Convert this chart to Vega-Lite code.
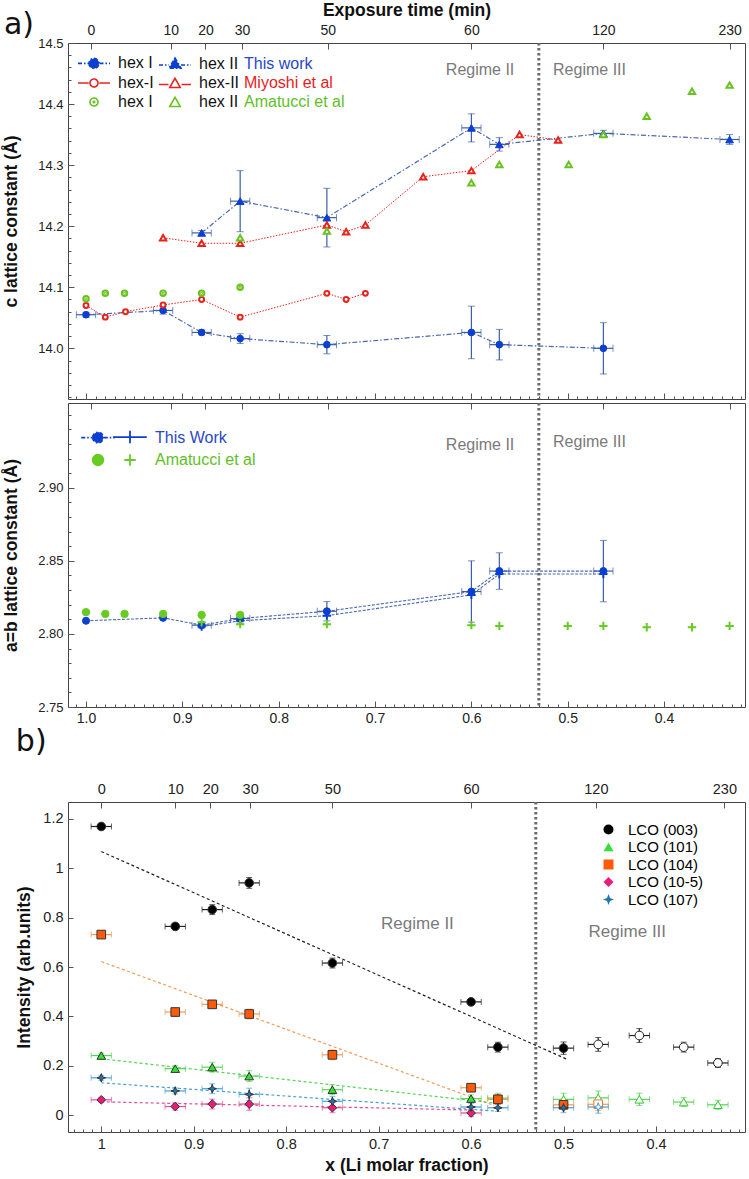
{
"$schema":"https://vega.github.io/schema/vega-lite/v6.json",
"background":"white",
"padding":{"left":2,"top":0,"right":2,"bottom":2},
"config":{
 "font":"Liberation Sans",
 "view":{"stroke":"#444444","strokeWidth":1},
 "axis":{"labelFont":"Liberation Sans","titleFont":"Liberation Sans","labelColor":"#222222","titleColor":"#111111","labelFontSize":14,"titleFontSize":17.5,"titleFontWeight":"bold","grid":false,"domain":false,"tickColor":"#555555","tickWidth":1,"labelOverlap":false,"labelBound":false,"labelFlush":false},
 "legend":{"labelFont":"Liberation Sans","padding":0},
 "title":{"font":"DejaVu Sans","fontWeight":"normal","fontSize":30,"color":"#111111"}
},
"datasets":{
 "aTop":[
  {"series":"tw-I","x":1.0,"c":14.055,"xe":0.01,"ce":0.004},
  {"series":"tw-I","x":0.92,"c":14.062,"xe":0.01,"ce":0.006},
  {"series":"tw-I","x":0.88,"c":14.026,"xe":0.01,"ce":0.004},
  {"series":"tw-I","x":0.84,"c":14.016,"xe":0.01,"ce":0.008},
  {"series":"tw-I","x":0.75,"c":14.006,"xe":0.01,"ce":0.015},
  {"series":"tw-I","x":0.6,"c":14.026,"xe":0.01,"ce":0.043},
  {"series":"tw-I","x":0.571,"c":14.006,"xe":0.01,"ce":0.025},
  {"series":"tw-I","x":0.463,"c":14.0,"xe":0.01,"ce":0.042},
  {"series":"tw-II","x":0.88,"c":14.189,"xe":0.01,"ce":0.004},
  {"series":"tw-II","x":0.84,"c":14.241,"xe":0.01,"ce":0.05},
  {"series":"tw-II","x":0.75,"c":14.214,"xe":0.01,"ce":0.048},
  {"series":"tw-II","x":0.6,"c":14.361,"xe":0.01,"ce":0.023},
  {"series":"tw-II","x":0.571,"c":14.334,"xe":0.01,"ce":0.011},
  {"series":"tw-II","x":0.463,"c":14.352,"xe":0.01,"ce":0.005},
  {"series":"tw-II","x":0.332,"c":14.342,"xe":0.01,"ce":0.008},
  {"series":"mi-I","x":1.0,"c":14.07,"xe":0,"ce":0},
  {"series":"mi-I","x":0.98,"c":14.051,"xe":0,"ce":0},
  {"series":"mi-I","x":0.959,"c":14.06,"xe":0,"ce":0},
  {"series":"mi-I","x":0.92,"c":14.071,"xe":0,"ce":0},
  {"series":"mi-I","x":0.88,"c":14.08,"xe":0,"ce":0},
  {"series":"mi-I","x":0.84,"c":14.051,"xe":0,"ce":0},
  {"series":"mi-I","x":0.75,"c":14.09,"xe":0,"ce":0},
  {"series":"mi-I","x":0.73,"c":14.08,"xe":0,"ce":0},
  {"series":"mi-I","x":0.71,"c":14.09,"xe":0,"ce":0},
  {"series":"mi-II","x":0.92,"c":14.181,"xe":0,"ce":0},
  {"series":"mi-II","x":0.88,"c":14.172,"xe":0,"ce":0},
  {"series":"mi-II","x":0.84,"c":14.172,"xe":0,"ce":0},
  {"series":"mi-II","x":0.75,"c":14.202,"xe":0,"ce":0},
  {"series":"mi-II","x":0.73,"c":14.191,"xe":0,"ce":0},
  {"series":"mi-II","x":0.71,"c":14.202,"xe":0,"ce":0},
  {"series":"mi-II","x":0.65,"c":14.281,"xe":0,"ce":0},
  {"series":"mi-II","x":0.6,"c":14.291,"xe":0,"ce":0},
  {"series":"mi-II","x":0.55,"c":14.35,"xe":0,"ce":0},
  {"series":"mi-II","x":0.51,"c":14.341,"xe":0,"ce":0},
  {"series":"am-I","x":1.0,"c":14.081,"xe":0,"ce":0},
  {"series":"am-I","x":0.98,"c":14.09,"xe":0,"ce":0},
  {"series":"am-I","x":0.96,"c":14.09,"xe":0,"ce":0},
  {"series":"am-I","x":0.92,"c":14.09,"xe":0,"ce":0},
  {"series":"am-I","x":0.88,"c":14.09,"xe":0,"ce":0},
  {"series":"am-I","x":0.84,"c":14.1,"xe":0,"ce":0},
  {"series":"am-II","x":0.84,"c":14.181,"xe":0,"ce":0},
  {"series":"am-II","x":0.75,"c":14.192,"xe":0,"ce":0},
  {"series":"am-II","x":0.6,"c":14.271,"xe":0,"ce":0},
  {"series":"am-II","x":0.571,"c":14.301,"xe":0,"ce":0},
  {"series":"am-II","x":0.499,"c":14.301,"xe":0,"ce":0},
  {"series":"am-II","x":0.463,"c":14.35,"xe":0,"ce":0},
  {"series":"am-II","x":0.418,"c":14.38,"xe":0,"ce":0},
  {"series":"am-II","x":0.371,"c":14.421,"xe":0,"ce":0},
  {"series":"am-II","x":0.332,"c":14.431,"xe":0,"ce":0}
 ],
 "aBot":[
  {"series":"tw-c","x":1.0,"a":2.809,"xe":0,"ae":0},
  {"series":"tw-c","x":0.92,"a":2.811,"xe":0,"ae":0},
  {"series":"tw-c","x":0.88,"a":2.806,"xe":0.01,"ae":0.002},
  {"series":"tw-c","x":0.84,"a":2.8105,"xe":0.01,"ae":0.003},
  {"series":"tw-c","x":0.75,"a":2.8155,"xe":0.01,"ae":0.0066},
  {"series":"tw-c","x":0.6,"a":2.829,"xe":0.01,"ae":0.021},
  {"series":"tw-c","x":0.571,"a":2.843,"xe":0.01,"ae":0.0125},
  {"series":"tw-c","x":0.463,"a":2.843,"xe":0.01,"ae":0.021},
  {"series":"tw-p","x":0.88,"a":2.805,"xe":0,"ae":0},
  {"series":"tw-p","x":0.84,"a":2.809,"xe":0,"ae":0},
  {"series":"tw-p","x":0.75,"a":2.8125,"xe":0,"ae":0},
  {"series":"tw-p","x":0.6,"a":2.8267,"xe":0,"ae":0},
  {"series":"tw-p","x":0.571,"a":2.841,"xe":0,"ae":0},
  {"series":"tw-p","x":0.463,"a":2.841,"xe":0,"ae":0},
  {"series":"am-c","x":1.0,"a":2.8149,"xe":0,"ae":0},
  {"series":"am-c","x":0.98,"a":2.8137,"xe":0,"ae":0},
  {"series":"am-c","x":0.96,"a":2.8137,"xe":0,"ae":0},
  {"series":"am-c","x":0.92,"a":2.8137,"xe":0,"ae":0},
  {"series":"am-c","x":0.88,"a":2.813,"xe":0,"ae":0},
  {"series":"am-c","x":0.84,"a":2.813,"xe":0,"ae":0},
  {"series":"am-p","x":0.88,"a":2.808,"xe":0,"ae":0},
  {"series":"am-p","x":0.84,"a":2.8067,"xe":0,"ae":0},
  {"series":"am-p","x":0.75,"a":2.8067,"xe":0,"ae":0},
  {"series":"am-p","x":0.6,"a":2.806,"xe":0,"ae":0},
  {"series":"am-p","x":0.571,"a":2.8055,"xe":0,"ae":0},
  {"series":"am-p","x":0.5,"a":2.8055,"xe":0,"ae":0},
  {"series":"am-p","x":0.463,"a":2.8055,"xe":0,"ae":0},
  {"series":"am-p","x":0.418,"a":2.8046,"xe":0,"ae":0},
  {"series":"am-p","x":0.371,"a":2.8046,"xe":0,"ae":0},
  {"series":"am-p","x":0.332,"a":2.8055,"xe":0,"ae":0}
 ],
 "bPts":[
  {"peak":"LCO (003)","x":1.0,"y":1.168,"xe":0.011,"ye":0.01},
  {"peak":"LCO (003)","x":0.92,"y":0.764,"xe":0.011,"ye":0.012},
  {"peak":"LCO (003)","x":0.88,"y":0.832,"xe":0.011,"ye":0.02},
  {"peak":"LCO (003)","x":0.84,"y":0.94,"xe":0.011,"ye":0.022},
  {"peak":"LCO (003)","x":0.75,"y":0.616,"xe":0.011,"ye":0.02},
  {"peak":"LCO (003)","x":0.6,"y":0.459,"xe":0.011,"ye":0.01},
  {"peak":"LCO (003)","x":0.571,"y":0.276,"xe":0.011,"ye":0.02},
  {"peak":"LCO (003)","x":0.5,"y":0.272,"xe":0.011,"ye":0.025},
  {"peak":"LCO (003)","x":0.4625,"y":0.287,"xe":0.011,"ye":0.028},
  {"peak":"LCO (003)","x":0.418,"y":0.323,"xe":0.011,"ye":0.028},
  {"peak":"LCO (003)","x":0.37,"y":0.276,"xe":0.011,"ye":0.02},
  {"peak":"LCO (003)","x":0.333,"y":0.212,"xe":0.011,"ye":0.018},
  {"peak":"LCO (101)","x":1.0,"y":0.242,"xe":0.011,"ye":0.01},
  {"peak":"LCO (101)","x":0.92,"y":0.189,"xe":0.011,"ye":0.012},
  {"peak":"LCO (101)","x":0.88,"y":0.195,"xe":0.011,"ye":0.02},
  {"peak":"LCO (101)","x":0.84,"y":0.159,"xe":0.011,"ye":0.022},
  {"peak":"LCO (101)","x":0.75,"y":0.104,"xe":0.011,"ye":0.02},
  {"peak":"LCO (101)","x":0.6,"y":0.068,"xe":0.011,"ye":0.015},
  {"peak":"LCO (101)","x":0.571,"y":0.07,"xe":0.011,"ye":0.02},
  {"peak":"LCO (101)","x":0.5,"y":0.065,"xe":0.011,"ye":0.025},
  {"peak":"LCO (101)","x":0.4625,"y":0.071,"xe":0.011,"ye":0.028},
  {"peak":"LCO (101)","x":0.418,"y":0.065,"xe":0.011,"ye":0.025},
  {"peak":"LCO (101)","x":0.37,"y":0.054,"xe":0.011,"ye":0.018},
  {"peak":"LCO (101)","x":0.333,"y":0.043,"xe":0.011,"ye":0.018},
  {"peak":"LCO (104)","x":1.0,"y":0.731,"xe":0.011,"ye":0.01},
  {"peak":"LCO (104)","x":0.92,"y":0.418,"xe":0.011,"ye":0.01},
  {"peak":"LCO (104)","x":0.88,"y":0.449,"xe":0.011,"ye":0.015},
  {"peak":"LCO (104)","x":0.84,"y":0.41,"xe":0.011,"ye":0.02},
  {"peak":"LCO (104)","x":0.75,"y":0.245,"xe":0.011,"ye":0.02},
  {"peak":"LCO (104)","x":0.6,"y":0.112,"xe":0.011,"ye":0.012},
  {"peak":"LCO (104)","x":0.571,"y":0.065,"xe":0.011,"ye":0.02},
  {"peak":"LCO (104)","x":0.5,"y":0.043,"xe":0.011,"ye":0.02},
  {"peak":"LCO (104)","x":0.4625,"y":0.045,"xe":0.011,"ye":0.025},
  {"peak":"LCO (10-5)","x":1.0,"y":0.063,"xe":0.011,"ye":0.01},
  {"peak":"LCO (10-5)","x":0.92,"y":0.036,"xe":0.011,"ye":0.015},
  {"peak":"LCO (10-5)","x":0.88,"y":0.046,"xe":0.011,"ye":0.02},
  {"peak":"LCO (10-5)","x":0.84,"y":0.046,"xe":0.011,"ye":0.025},
  {"peak":"LCO (10-5)","x":0.75,"y":0.031,"xe":0.011,"ye":0.02},
  {"peak":"LCO (10-5)","x":0.6,"y":0.01,"xe":0.011,"ye":0.015},
  {"peak":"LCO (107)","x":1.0,"y":0.152,"xe":0.011,"ye":0.01},
  {"peak":"LCO (107)","x":0.92,"y":0.099,"xe":0.011,"ye":0.012},
  {"peak":"LCO (107)","x":0.88,"y":0.108,"xe":0.011,"ye":0.02},
  {"peak":"LCO (107)","x":0.84,"y":0.085,"xe":0.011,"ye":0.025},
  {"peak":"LCO (107)","x":0.75,"y":0.057,"xe":0.011,"ye":0.02},
  {"peak":"LCO (107)","x":0.6,"y":0.034,"xe":0.011,"ye":0.015},
  {"peak":"LCO (107)","x":0.571,"y":0.031,"xe":0.011,"ye":0.015},
  {"peak":"LCO (107)","x":0.5,"y":0.031,"xe":0.011,"ye":0.02},
  {"peak":"LCO (107)","x":0.4625,"y":0.034,"xe":0.011,"ye":0.025}
 ],
 "bFit":[
  {"peak":"LCO (003)","x":1.0,"y":1.067},{"peak":"LCO (003)","x":0.495,"y":0.225},
  {"peak":"LCO (104)","x":1.0,"y":0.622},{"peak":"LCO (104)","x":0.575,"y":0.04},
  {"peak":"LCO (101)","x":1.0,"y":0.229},{"peak":"LCO (101)","x":0.575,"y":0.05},
  {"peak":"LCO (107)","x":1.0,"y":0.132},{"peak":"LCO (107)","x":0.575,"y":0.018},
  {"peak":"LCO (10-5)","x":1.0,"y":0.055},{"peak":"LCO (10-5)","x":0.6,"y":0.022}
 ]
},
"resolve":{"scale":{"color":"independent","shape":"independent","fill":"independent","stroke":"independent"},"legend":{"color":"independent","shape":"independent","fill":"independent","stroke":"independent"}},
"spacing":0,
"vconcat":[
 {"spacing":0,
  "resolve":{"scale":{"color":"independent","shape":"independent","fill":"independent","stroke":"independent"},"legend":{"color":"independent","shape":"independent","fill":"independent","stroke":"independent"}},
  "vconcat":[
  {"width":677,"height":356,
   "resolve":{"axis":{"x":"independent","y":"independent"}},
   "layer":[
    {"data":{"values":[{}]},"mark":{"type":"rule","strokeDash":[2.5,2.5],"strokeWidth":3,"color":"#6b6b6b"},
     "encoding":{"x":{"datum":0.53,"type":"quantitative","scale":{"domain":[0.316,1.0187],"reverse":true,"nice":false,"zero":false},
       "axis":{"orient":"bottom","values":[0.32,0.33,0.34,0.35,0.36,0.37,0.38,0.39,0.4,0.41,0.42,0.43,0.44,0.45,0.46,0.47,0.48,0.49,0.5,0.51,0.52,0.53,0.54,0.55,0.56,0.57,0.58,0.59,0.6,0.61,0.62,0.63,0.64,0.65,0.66,0.67,0.68,0.69,0.7,0.71,0.72,0.73,0.74,0.75,0.76,0.77,0.78,0.79,0.8,0.81,0.82,0.83,0.84,0.85,0.86,0.87,0.88,0.89,0.9,0.91,0.92,0.93,0.94,0.95,0.96,0.97,0.98,0.99,1,1.01],"labels":false,"tickSize":-3,"title":null}}}},
    {"data":{"values":[{}]},"mark":{"type":"text","fontSize":30,"font":"DejaVu Sans","align":"left","baseline":"alphabetic","color":"#111111"},
     "encoding":{"x":{"datum":1.0852,"type":"quantitative","scale":{"domain":[0.316,1.0187],"reverse":true,"nice":false,"zero":false},"axis":null},
      "y":{"datum":14.515,"type":"quantitative","scale":{"domain":[13.917,14.5],"nice":false,"zero":false},"axis":null},
      "text":{"value":"a)"}}},
    {"data":{"values":[{}]},"mark":{"type":"text","fontSize":16,"color":"#7a7a7a"},
     "encoding":{"x":{"datum":0.591,"type":"quantitative","scale":{"domain":[0.316,1.0187],"reverse":true,"nice":false,"zero":false},"axis":null},
      "y":{"datum":14.455,"type":"quantitative","scale":{"domain":[13.917,14.5],"nice":false,"zero":false},
       "axis":{"orient":"left","values":[13.92,13.94,13.96,13.98,14,14.02,14.04,14.06,14.08,14.1,14.12,14.14,14.16,14.18,14.2,14.22,14.24,14.26,14.28,14.3,14.32,14.34,14.36,14.38,14.4,14.42,14.44,14.46,14.48],"labels":false,"tickSize":-3,"title":null}},
      "text":{"value":"Regime II"}}},
    {"data":{"values":[{}]},"mark":{"type":"text","fontSize":16,"color":"#7a7a7a"},
     "encoding":{"x":{"datum":0.4774,"type":"quantitative","scale":{"domain":[0.316,1.0187],"reverse":true,"nice":false,"zero":false},"axis":null},
      "y":{"datum":14.455,"type":"quantitative","scale":{"domain":[13.917,14.5],"nice":false,"zero":false},"axis":null},
      "text":{"value":"Regime III"}}},
    {"data":{"name":"aTop"},"transform":[{"filter":"indexof(datum.series,'tw')==0"}],
     "mark":{"type":"line","strokeDash":[5,2,1.5,2],"strokeWidth":1.2,"color":"#4a68b0"},
     "encoding":{"x":{"field":"x","type":"quantitative","scale":{"domain":[0.316,1.0187],"reverse":true,"nice":false,"zero":false},
       "axis":{"orient":"bottom","values":[1,0.9,0.8,0.7,0.6,0.5,0.4],"labels":false,"tickSize":-6,"title":null}},
      "y":{"field":"c","type":"quantitative","scale":{"domain":[13.917,14.5],"nice":false,"zero":false},
       "axis":{"orient":"left","values":[14,14.1,14.2,14.3,14.4,14.5],"format":".1f","tickSize":-6,"labelPadding":11,"labelFontSize":13,"title":"c lattice constant (Å)","titlePadding":17}},
      "detail":{"field":"series"}}},
    {"data":{"name":"aTop"},"transform":[{"filter":"indexof(datum.series,'mi')==0"}],
     "mark":{"type":"line","strokeDash":[1.5,1.5],"strokeWidth":1,"color":"#e8231c"},
     "encoding":{"x":{"field":"x","type":"quantitative","scale":{"domain":[0.316,1.0187],"reverse":true,"nice":false,"zero":false},"axis":null},
      "y":{"field":"c","type":"quantitative","scale":{"domain":[13.917,14.5],"nice":false,"zero":false},"axis":null},
      "detail":{"field":"series"}}},
    {"data":{"name":"aTop"},"transform":[{"filter":"datum.xe>0"}],
     "mark":{"type":"errorbar","ticks":{"size":7,"color":"#3d5fa6"},"rule":{"color":"#3d5fa6","strokeWidth":1.2}},
     "encoding":{"x":{"field":"x","type":"quantitative","scale":{"domain":[0.316,1.0187],"reverse":true,"nice":false,"zero":false},"axis":null},
      "xError":{"field":"xe"},
      "y":{"field":"c","type":"quantitative","scale":{"domain":[13.917,14.5],"nice":false,"zero":false},"axis":null}}},
    {"data":{"name":"aTop"},"transform":[{"filter":"datum.ce>0"}],
     "mark":{"type":"errorbar","ticks":{"size":7,"color":"#3d5fa6"},"rule":{"color":"#3d5fa6","strokeWidth":1.2}},
     "encoding":{"x":{"field":"x","type":"quantitative","scale":{"domain":[0.316,1.0187],"reverse":true,"nice":false,"zero":false},"axis":null},
      "y":{"field":"c","type":"quantitative","scale":{"domain":[13.917,14.5],"nice":false,"zero":false},"axis":null},
      "yError":{"field":"ce"}}},
    {"data":{"name":"aTop"},
     "mark":{"type":"point","filled":false,"opacity":1},
     "encoding":{"x":{"field":"x","type":"quantitative","scale":{"domain":[0.316,1.0187],"reverse":true,"nice":false,"zero":false},
       "axis":{"orient":"top","values":[0.995,0.912,0.876,0.838,0.749,0.6,0.463,0.332],"labelExpr":"datum.value>0.97?'0':datum.value>0.9?'10':datum.value>0.86?'20':datum.value>0.8?'30':datum.value>0.7?'50':datum.value>0.55?'60':datum.value>0.4?'120':'230'","tickSize":-6,"labelPadding":12,"title":"Exposure time (min)","titlePadding":4}},
      "y":{"field":"c","type":"quantitative","scale":{"domain":[13.917,14.5],"nice":false,"zero":false},"axis":null},
      "shape":{"field":"series","type":"nominal",
       "scale":{"domain":["tw-I","tw-II","mi-I","mi-II","am-I","am-II"],
        "range":["circle","triangle-up","circle","triangle-up","M-1,0A1,1 0 1,0 1,0A1,1 0 1,0 -1,0ZM-0.15,0A0.15,0.15 0 1,0 0.15,0A0.15,0.15 0 1,0 -0.15,0Z","triangle-up"]},
       "legend":null},
      "color":{"field":"series","type":"nominal",
       "scale":{"domain":["tw-I","tw-II","mi-I","mi-II","am-I","am-II"],
        "range":["#0b3fd1","#0b3fd1","#e8231c","#e8231c","#68c21f","#68c21f"]},
       "legend":null},
      "fill":{"condition":{"test":"indexof(datum.series,'tw')==0","value":"#0b3fd1"},"value":"#ffffff"},
      "size":{"condition":[{"test":"datum.series=='tw-I'","value":45},{"test":"datum.series=='tw-II'","value":60},{"test":"datum.series=='mi-I'","value":24},{"test":"datum.series=='am-I'","value":30}],"value":40},
      "strokeWidth":{"condition":{"test":"indexof(datum.series,'tw')==0","value":1},"value":2}
     }},
    {"data":{"name":"aTop"},
     "mark":{"type":"point","filled":true,"opacity":0,"size":0},
     "encoding":{
      "fill":{"field":"series","type":"nominal",
       "scale":{"domain":["tw-I","tw-II","This work","mi-I","mi-II","Miyoshi et al","am-I","am-II","Amatucci et al"],"range":["#0b3fd1","#0b3fd1","#ffffff","#ffffff","#ffffff","#ffffff","#ffffff","#ffffff","#ffffff"]},
       "legend":{"orient":"none","legendX":18,"legendY":12,"title":null,"columns":3,"direction":"horizontal","labelFontSize":16,"symbolSize":100,"symbolStrokeWidth":1.6,"columnPadding":1,"rowPadding":3,
        "labelExpr":"datum.label=='tw-I'||datum.label=='am-I' ? 'hex I' : datum.label=='tw-II'||datum.label=='am-II' ? 'hex II' : datum.label=='mi-I' ? 'hex-I' : datum.label=='mi-II' ? 'hex-II' : datum.label",
        "symbolType":{"expr":"datum.value=='tw-I' ? 'M-3.2,0H-1.1M1.1,0H3.2M-1,0A1,1 0 1,0 1,0A1,1 0 1,0 -1,0Z' : datum.value=='tw-II' ? 'M-3.2,0.3H-1.2M1.2,0.3H3.2M0,-1.1L1.2,0.95L-1.2,0.95Z' : datum.value=='mi-I' ? 'M-3.2,0H-1.05M1.05,0H3.2M-0.8,0A0.8,0.8 0 1,0 0.8,0A0.8,0.8 0 1,0 -0.8,0Z' : datum.value=='mi-II' ? 'M-3.2,0.3H-1.3M1.3,0.3H3.2M0,-0.95L1.05,0.9L-1.05,0.9Z' : datum.value=='am-I' ? 'M-0.8,0A0.8,0.8 0 1,0 0.8,0A0.8,0.8 0 1,0 -0.8,0ZM-0.15,0A0.15,0.15 0 1,0 0.15,0A0.15,0.15 0 1,0 -0.15,0Z' : datum.value=='am-II' ? 'M0,-0.95L1.05,0.9L-1.05,0.9Z' : 'M0,0'"},
        "symbolDash":{"expr":"indexof(datum.value,'tw')==0 ? [4,2,1.5,2] : [1,0]"},
        "symbolOpacity":{"expr":"indexof(datum.value,'-')==2 ? 1 : 0"},
        "labelColor":{"expr":"datum.value=='This work' ? '#2a48c8' : datum.value=='Miyoshi et al' ? '#e8231c' : datum.value=='Amatucci et al' ? '#5fbf1f' : '#111111'"},
        "labelOffset":{"expr":"indexof(datum.value,'-')==2 ? 16 : -13"}}},
      "stroke":{"field":"series","type":"nominal",
       "scale":{"domain":["tw-I","tw-II","This work","mi-I","mi-II","Miyoshi et al","am-I","am-II","Amatucci et al"],"range":["#0b3fd1","#0b3fd1","#2a48c8","#e8231c","#e8231c","#e8231c","#68c21f","#68c21f","#68c21f"]},
       "legend":{"orient":"none","legendX":18,"legendY":12,"title":null,"columns":3,"direction":"horizontal","labelFontSize":16,"symbolSize":100,"symbolStrokeWidth":1.6,"columnPadding":1,"rowPadding":3,
        "labelExpr":"datum.label=='tw-I'||datum.label=='am-I' ? 'hex I' : datum.label=='tw-II'||datum.label=='am-II' ? 'hex II' : datum.label=='mi-I' ? 'hex-I' : datum.label=='mi-II' ? 'hex-II' : datum.label",
        "symbolType":{"expr":"datum.value=='tw-I' ? 'M-3.2,0H-1.1M1.1,0H3.2M-1,0A1,1 0 1,0 1,0A1,1 0 1,0 -1,0Z' : datum.value=='tw-II' ? 'M-3.2,0.3H-1.2M1.2,0.3H3.2M0,-1.1L1.2,0.95L-1.2,0.95Z' : datum.value=='mi-I' ? 'M-3.2,0H-1.05M1.05,0H3.2M-0.8,0A0.8,0.8 0 1,0 0.8,0A0.8,0.8 0 1,0 -0.8,0Z' : datum.value=='mi-II' ? 'M-3.2,0.3H-1.3M1.3,0.3H3.2M0,-0.95L1.05,0.9L-1.05,0.9Z' : datum.value=='am-I' ? 'M-0.8,0A0.8,0.8 0 1,0 0.8,0A0.8,0.8 0 1,0 -0.8,0ZM-0.15,0A0.15,0.15 0 1,0 0.15,0A0.15,0.15 0 1,0 -0.15,0Z' : datum.value=='am-II' ? 'M0,-0.95L1.05,0.9L-1.05,0.9Z' : 'M0,0'"},
        "symbolDash":{"expr":"indexof(datum.value,'tw')==0 ? [4,2,1.5,2] : [1,0]"},
        "symbolOpacity":{"expr":"indexof(datum.value,'-')==2 ? 1 : 0"},
        "labelColor":{"expr":"datum.value=='This work' ? '#2a48c8' : datum.value=='Miyoshi et al' ? '#e8231c' : datum.value=='Amatucci et al' ? '#5fbf1f' : '#111111'"},
        "labelOffset":{"expr":"indexof(datum.value,'-')==2 ? 16 : -13"}}}
     }}
   ]},
  {"width":677,"height":304,
   "resolve":{"axis":{"x":"independent","y":"independent"}},
   "layer":[
    {"data":{"values":[{}]},"mark":{"type":"rule","strokeDash":[2.5,2.5],"strokeWidth":3,"color":"#6b6b6b"},
     "encoding":{"x":{"datum":0.53,"type":"quantitative","scale":{"domain":[0.316,1.0187],"reverse":true,"nice":false,"zero":false},
       "axis":{"orient":"bottom","values":[0.32,0.33,0.34,0.35,0.36,0.37,0.38,0.39,0.4,0.41,0.42,0.43,0.44,0.45,0.46,0.47,0.48,0.49,0.5,0.51,0.52,0.53,0.54,0.55,0.56,0.57,0.58,0.59,0.6,0.61,0.62,0.63,0.64,0.65,0.66,0.67,0.68,0.69,0.7,0.71,0.72,0.73,0.74,0.75,0.76,0.77,0.78,0.79,0.8,0.81,0.82,0.83,0.84,0.85,0.86,0.87,0.88,0.89,0.9,0.91,0.92,0.93,0.94,0.95,0.96,0.97,0.98,0.99,1,1.01],"labels":false,"tickSize":-3,"title":null}}}},
    {"data":{"values":[{}]},"mark":{"type":"text","fontSize":16,"color":"#7a7a7a"},
     "encoding":{"x":{"datum":0.591,"type":"quantitative","scale":{"domain":[0.316,1.0187],"reverse":true,"nice":false,"zero":false},"axis":null},
      "y":{"datum":2.9295,"type":"quantitative","scale":{"domain":[2.75,2.958],"nice":false,"zero":false},
       "axis":{"orient":"left","values":[2.76,2.77,2.78,2.79,2.8,2.81,2.82,2.83,2.84,2.85,2.86,2.87,2.88,2.89,2.9,2.91,2.92,2.93,2.94,2.95],"labels":false,"tickSize":-3,"title":null}},
      "text":{"value":"Regime II"}}},
    {"data":{"values":[{}]},"mark":{"type":"text","fontSize":16,"color":"#7a7a7a"},
     "encoding":{"x":{"datum":0.4774,"type":"quantitative","scale":{"domain":[0.316,1.0187],"reverse":true,"nice":false,"zero":false},"axis":null},
      "y":{"datum":2.9315,"type":"quantitative","scale":{"domain":[2.75,2.958],"nice":false,"zero":false},"axis":null},
      "text":{"value":"Regime III"}}},
    {"data":{"name":"aBot"},"transform":[{"filter":"datum.series=='tw-c'"}],
     "mark":{"type":"line","strokeDash":[3,1.5],"strokeWidth":1.1,"color":"#4a68b0"},
     "encoding":{"x":{"field":"x","type":"quantitative","scale":{"domain":[0.316,1.0187],"reverse":true,"nice":false,"zero":false},
       "axis":{"orient":"bottom","values":[1,0.9,0.8,0.7,0.6,0.5,0.4],"format":".1f","tickSize":-6,"labelPadding":10,"title":null}},
      "y":{"field":"a","type":"quantitative","scale":{"domain":[2.75,2.958],"nice":false,"zero":false},
       "axis":{"orient":"left","values":[2.75,2.8,2.85,2.9],"format":".2f","tickSize":-6,"labelPadding":11,"labelFontSize":13,"title":"a=b lattice constant (Å)","titlePadding":17}}}},
    {"data":{"name":"aBot"},"transform":[{"filter":"datum.series=='tw-p'"}],
     "mark":{"type":"line","strokeDash":[3,1.5],"strokeWidth":1.1,"color":"#4a68b0"},
     "encoding":{"x":{"field":"x","type":"quantitative","scale":{"domain":[0.316,1.0187],"reverse":true,"nice":false,"zero":false},"axis":null},
      "y":{"field":"a","type":"quantitative","scale":{"domain":[2.75,2.958],"nice":false,"zero":false},"axis":null}}},
    {"data":{"name":"aBot"},"transform":[{"filter":"datum.xe>0"}],
     "mark":{"type":"errorbar","ticks":{"size":7,"color":"#3d5fa6"},"rule":{"color":"#3d5fa6","strokeWidth":1.2}},
     "encoding":{"x":{"field":"x","type":"quantitative","scale":{"domain":[0.316,1.0187],"reverse":true,"nice":false,"zero":false},"axis":null},
      "xError":{"field":"xe"},
      "y":{"field":"a","type":"quantitative","scale":{"domain":[2.75,2.958],"nice":false,"zero":false},"axis":null}}},
    {"data":{"name":"aBot"},"transform":[{"filter":"datum.ae>0"}],
     "mark":{"type":"errorbar","ticks":{"size":7,"color":"#3d5fa6"},"rule":{"color":"#3d5fa6","strokeWidth":1.2}},
     "encoding":{"x":{"field":"x","type":"quantitative","scale":{"domain":[0.316,1.0187],"reverse":true,"nice":false,"zero":false},"axis":null},
      "y":{"field":"a","type":"quantitative","scale":{"domain":[2.75,2.958],"nice":false,"zero":false},"axis":null},
      "yError":{"field":"ae"}}},
    {"data":{"name":"aBot"},
     "mark":{"type":"point","filled":false,"opacity":1},
     "encoding":{"x":{"field":"x","type":"quantitative","scale":{"domain":[0.316,1.0187],"reverse":true,"nice":false,"zero":false},
       "axis":{"orient":"top","values":[0.995,0.912,0.876,0.838,0.749,0.6,0.463,0.332],"labels":false,"tickSize":-6,"title":null}},
      "y":{"field":"a","type":"quantitative","scale":{"domain":[2.75,2.958],"nice":false,"zero":false},"axis":null},
      "shape":{"field":"series","type":"nominal",
       "scale":{"domain":["tw-c","tw-p","am-c","am-p"],"range":["circle","M-1,0H1M0,-1V1","circle","M-1,0H1M0,-1V1"]},
       "legend":null},
      "color":{"field":"series","type":"nominal",
       "scale":{"domain":["tw-c","tw-p","am-c","am-p"],"range":["#0b3fd1","#0b3fd1","#66cc22","#66cc22"]},
       "legend":null},
      "fill":{"condition":[{"test":"datum.series=='tw-c'","value":"#0b3fd1"},{"test":"datum.series=='am-c'","value":"#66cc22"}],"value":"transparent"},
      "size":{"condition":[{"test":"datum.series=='tw-c'","value":50},{"test":"datum.series=='am-c'","value":55}],"value":70},
      "strokeWidth":{"condition":{"test":"datum.series=='tw-c'||datum.series=='am-c'","value":1},"value":2}
     }},
    {"data":{"name":"aBot"},
     "mark":{"type":"point","filled":true,"opacity":0,"size":0},
     "encoding":{
      "fill":{"field":"series","type":"nominal",
       "scale":{"domain":["tw-c","tw-p","This Work","am-c","am-p"," Amatucci et al"],"range":["#0b3fd1","transparent","transparent","#66cc22","transparent","transparent"]},
       "legend":{"orient":"none","legendX":22,"legendY":26,"title":null,"columns":3,"direction":"horizontal","labelFontSize":16,"symbolSize":110,"symbolStrokeWidth":1.8,"columnPadding":-10,"rowPadding":3,
        "labelExpr":"indexof(datum.label,'-')==2 ? '' : datum.label",
        "symbolType":{"expr":"datum.value=='tw-c' ? 'M-3.2,0H-1.1M1.1,0H3.2M-1,0A1,1 0 1,0 1,0A1,1 0 1,0 -1,0Z' : datum.value=='tw-p' ? 'M-3.2,0H3.2M0,-1.2V1.2' : datum.value=='am-c' ? 'M-1,0A1,1 0 1,0 1,0A1,1 0 1,0 -1,0Z' : datum.value=='am-p' ? 'M-1.1,0H1.1M0,-1.1V1.1' : 'M0,0'"},
        "symbolDash":{"expr":"datum.value=='tw-c' ? [4,2,1.5,2] : [1,0]"},
        "symbolOpacity":{"expr":"indexof(datum.value,'-')==2 ? 1 : 0"},
        "labelColor":{"expr":"datum.value=='This Work' ? '#2a48c8' : '#5fbf1f'"},
        "labelOffset":{"expr":"indexof(datum.value,'-')==2 ? 0 : -12"}}},
      "stroke":{"field":"series","type":"nominal",
       "scale":{"domain":["tw-c","tw-p","This Work","am-c","am-p"," Amatucci et al"],"range":["#0b3fd1","#0b3fd1","#2a48c8","#66cc22","#66cc22","#5fbf1f"]},
       "legend":{"orient":"none","legendX":22,"legendY":26,"title":null,"columns":3,"direction":"horizontal","labelFontSize":16,"symbolSize":110,"symbolStrokeWidth":1.8,"columnPadding":-10,"rowPadding":3,
        "labelExpr":"indexof(datum.label,'-')==2 ? '' : datum.label",
        "symbolType":{"expr":"datum.value=='tw-c' ? 'M-3.2,0H-1.1M1.1,0H3.2M-1,0A1,1 0 1,0 1,0A1,1 0 1,0 -1,0Z' : datum.value=='tw-p' ? 'M-3.2,0H3.2M0,-1.2V1.2' : datum.value=='am-c' ? 'M-1,0A1,1 0 1,0 1,0A1,1 0 1,0 -1,0Z' : datum.value=='am-p' ? 'M-1.1,0H1.1M0,-1.1V1.1' : 'M0,0'"},
        "symbolDash":{"expr":"datum.value=='tw-c' ? [4,2,1.5,2] : [1,0]"},
        "symbolOpacity":{"expr":"indexof(datum.value,'-')==2 ? 1 : 0"},
        "labelColor":{"expr":"datum.value=='This Work' ? '#2a48c8' : '#5fbf1f'"},
        "labelOffset":{"expr":"indexof(datum.value,'-')==2 ? 0 : -12"}}}
     }}
   ]}
 ]},
 {"width":677,"height":330,
  "title":{"text":"b)","anchor":"start","frame":"bounds","offset":0,"baseline":"alphabetic"},
  "resolve":{"axis":{"x":"independent","y":"independent"}},
  "layer":[
   {"data":{"values":[{}]},"mark":{"type":"rule","strokeDash":[2.5,2.5],"strokeWidth":3,"color":"#6b6b6b"},
    "encoding":{"x":{"datum":0.53,"type":"quantitative","scale":{"domain":[0.3037,1.036],"reverse":true,"nice":false,"zero":false},
      "axis":{"orient":"bottom","values":[0.31,0.32,0.33,0.34,0.35,0.36,0.37,0.38,0.39,0.4,0.41,0.42,0.43,0.44,0.45,0.46,0.47,0.48,0.49,0.5,0.51,0.52,0.53,0.54,0.55,0.56,0.57,0.58,0.59,0.6,0.61,0.62,0.63,0.64,0.65,0.66,0.67,0.68,0.69,0.7,0.71,0.72,0.73,0.74,0.75,0.76,0.77,0.78,0.79,0.8,0.81,0.82,0.83,0.84,0.85,0.86,0.87,0.88,0.89,0.9,0.91,0.92,0.93,0.94,0.95,0.96,0.97,0.98,0.99,1,1.01,1.02,1.03],"labels":false,"tickSize":-3,"title":null}}}},
   {"data":{"values":[{}]},"mark":{"type":"text","fontSize":17,"color":"#7a7a7a"},
    "encoding":{"x":{"datum":0.658,"type":"quantitative","scale":{"domain":[0.3037,1.036],"reverse":true,"nice":false,"zero":false},"axis":null},
     "y":{"datum":0.775,"type":"quantitative","scale":{"domain":[-0.067,1.267],"nice":false,"zero":false},"axis":null},
     "text":{"value":"Regime II"}}},
   {"data":{"values":[{}]},"mark":{"type":"text","fontSize":17,"color":"#7a7a7a"},
    "encoding":{"x":{"datum":0.431,"type":"quantitative","scale":{"domain":[0.3037,1.036],"reverse":true,"nice":false,"zero":false},"axis":null},
     "y":{"datum":0.741,"type":"quantitative","scale":{"domain":[-0.067,1.267],"nice":false,"zero":false},"axis":null},
     "text":{"value":"Regime III"}}},
   {"data":{"name":"bFit"},
    "mark":{"type":"line","strokeDash":[3,2.5],"strokeWidth":1.2},
    "encoding":{"x":{"field":"x","type":"quantitative","scale":{"domain":[0.3037,1.036],"reverse":true,"nice":false,"zero":false},
      "axis":{"orient":"bottom","values":[1,0.9,0.8,0.7,0.6,0.5,0.4],"format":"~g","tickSize":-6,"labelPadding":11,"labelFontSize":14.5,"title":"x (Li molar fraction)","titlePadding":6}},
     "y":{"field":"y","type":"quantitative","scale":{"domain":[-0.067,1.267],"nice":false,"zero":false},
      "axis":{"orient":"left","values":[0,0.2,0.4,0.6,0.8,1,1.2],"format":"~g","tickSize":-5,"labelPadding":10,"labelFontSize":14.5,"title":"Intensity (arb.units)","titlePadding":9}},
     "color":{"field":"peak","type":"nominal","scale":{"domain":["LCO (107)","LCO (10-5)","LCO (104)","LCO (101)","LCO (003)"],"range":["#4a9fd4","#e0509a","#f09a5a","#55d655","#222222"]},"legend":null}}},
   {"data":{"name":"bPts"},
    "mark":{"type":"errorbar","ticks":{"size":6},"rule":{"strokeWidth":1.2}},
    "encoding":{"x":{"field":"x","type":"quantitative","scale":{"domain":[0.3037,1.036],"reverse":true,"nice":false,"zero":false},"axis":null},
     "xError":{"field":"xe"},
     "y":{"field":"y","type":"quantitative","scale":{"domain":[-0.067,1.267],"nice":false,"zero":false},"axis":null},
     "color":{"field":"peak","type":"nominal","scale":{"domain":["LCO (107)","LCO (10-5)","LCO (104)","LCO (101)","LCO (003)"],"range":["#4a9fd4","#e0509a","#f09a5a","#55d655","#222222"]},"legend":null}}},
   {"data":{"name":"bPts"},
    "mark":{"type":"errorbar","ticks":{"size":6},"rule":{"strokeWidth":1.2}},
    "encoding":{"x":{"field":"x","type":"quantitative","scale":{"domain":[0.3037,1.036],"reverse":true,"nice":false,"zero":false},"axis":null},
     "y":{"field":"y","type":"quantitative","scale":{"domain":[-0.067,1.267],"nice":false,"zero":false},"axis":null},
     "yError":{"field":"ye"},
     "color":{"field":"peak","type":"nominal","scale":{"domain":["LCO (107)","LCO (10-5)","LCO (104)","LCO (101)","LCO (003)"],"range":["#4a9fd4","#e0509a","#f09a5a","#55d655","#222222"]},"legend":null}}},
   {"data":{"name":"bPts"},
    "mark":{"type":"point","filled":true,"opacity":1,"strokeWidth":1},
    "encoding":{"x":{"field":"x","type":"quantitative","scale":{"domain":[0.3037,1.036],"reverse":true,"nice":false,"zero":false},
      "axis":{"orient":"top","values":[1,0.92,0.882,0.839,0.75,0.6,0.465,0.326],"labelExpr":"datum.value>0.97?'0':datum.value>0.9?'10':datum.value>0.86?'20':datum.value>0.8?'30':datum.value>0.7?'50':datum.value>0.55?'60':datum.value>0.4?'120':'230'","tickSize":-6,"labelPadding":12,"labelFontSize":14.5,"title":null}},
     "y":{"field":"y","type":"quantitative","scale":{"domain":[-0.067,1.267],"nice":false,"zero":false},"axis":null},
     "shape":{"field":"peak","type":"nominal","scale":{"domain":["LCO (003)","LCO (101)","LCO (104)","LCO (10-5)","LCO (107)"],"range":["circle","triangle-up","square","diamond","M0,-1.1L0.3,-0.3L1.1,0L0.3,0.3L0,1.1L-0.3,0.3L-1.1,0L-0.3,-0.3Z"]},
      "legend":{"orient":"none","legendX":533,"legendY":20,"title":null,"labelFontSize":15,"symbolSize":100,"symbolStrokeColor":"#333333","symbolStrokeWidth":1,"symbolOpacity":1,"labelOffset":12,"rowPadding":1.5}},
     "fill":{"condition":{"test":"datum.x < 0.48 || (datum.x < 0.51 && datum.peak == 'LCO (101)')","value":"#ffffff"},"field":"peak","type":"nominal","scale":{"domain":["LCO (003)","LCO (101)","LCO (104)","LCO (10-5)","LCO (107)"],"range":["#000000","#33e033","#ff5a0a","#ee1a7a","#1f77b4"]},
      "legend":{"orient":"none","legendX":533,"legendY":20,"title":null,"labelFontSize":15,"symbolSize":100,"symbolStrokeColor":"#333333","symbolStrokeWidth":1,"symbolOpacity":1,"labelOffset":12,"rowPadding":1.5}},
     "stroke":{"condition":[
       {"test":"(datum.x < 0.48 || (datum.x < 0.51 && datum.peak == 'LCO (101)')) && datum.peak == 'LCO (003)'","value":"#222222"},
       {"test":"(datum.x < 0.48 || (datum.x < 0.51 && datum.peak == 'LCO (101)')) && datum.peak == 'LCO (101)'","value":"#33cc33"},
       {"test":"(datum.x < 0.48 || (datum.x < 0.51 && datum.peak == 'LCO (101)')) && datum.peak == 'LCO (104)'","value":"#ee7733"},
       {"test":"(datum.x < 0.48 || (datum.x < 0.51 && datum.peak == 'LCO (101)')) && datum.peak == 'LCO (107)'","value":"#3a9ad8"}],
      "value":"#333333"},
     "size":{"condition":{"test":"datum.peak=='LCO (107)'","value":60},"value":75}
    }}
  ]}
]
}
